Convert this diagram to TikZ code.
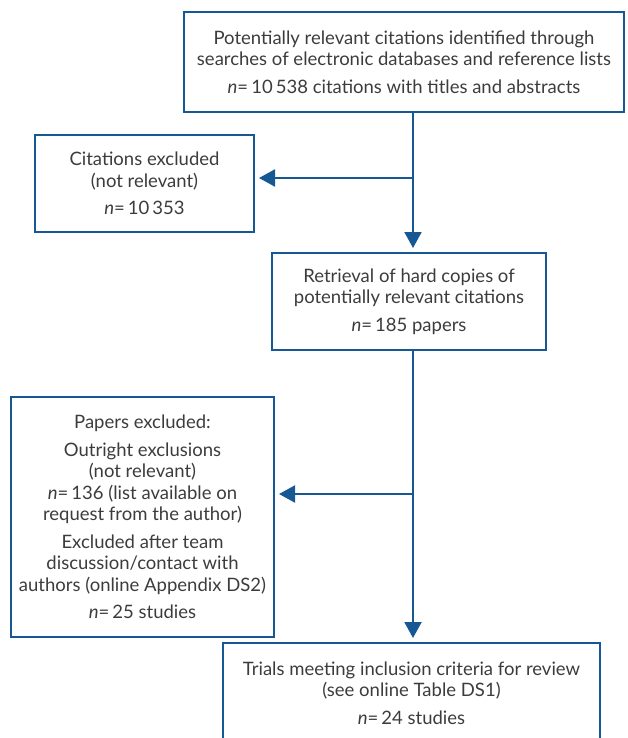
\documentclass[tikz,border=0pt]{standalone}
\usepackage{fontspec}
\setmainfont{Lato}
\usetikzlibrary{arrows.meta}
\definecolor{frameblue}{RGB}{22,88,148}
\definecolor{textgray}{RGB}{60,60,60}
\tikzset{
  box/.style={draw=frameblue, line width=2pt, align=center, inner sep=0pt,
    text=textgray, font=\fontsize{18.5}{21.5}\selectfont},
  flow/.style={draw=frameblue, line width=2pt,
    -{Triangle[length=16pt,width=17pt]}, shorten >=4pt}
}
\begin{document}
\begin{tikzpicture}[x=1pt,y=-1pt]
\clip (0,0) rectangle (628,738);
\node[box, minimum width=440pt, minimum height=100pt] (search) at (404,62)
  {Potentially relevant citations identified through\\
   searches of electronic databases and reference lists\\[6pt]
   \textit{n}=\,10\,538 citations with titles and abstracts};
\node[box, minimum width=219pt, minimum height=97pt] (excl1) at (144.5,183.5)
  {Citations excluded\\ (not relevant)\\[6pt] \textit{n}=\,10\,353};
\node[box, minimum width=274pt, minimum height=97pt] (retrieve) at (409,301.5)
  {Retrieval of hard copies of\\ potentially relevant citations\\[6pt]
   \textit{n}=\,185 papers};
\node[box, minimum width=263pt, minimum height=240pt] (excl2) at (142.5,517)
  {Papers excluded:\\[6pt]
   Outright exclusions\\ (not relevant)\\
   \textit{n}=\,136 (list available on\\ request from the author)\\[6pt]
   Excluded after team\\ discussion/contact with\\
   authors (online Appendix DS2)\\[6pt]
   \textit{n}=\,25 studies};
\node[box, minimum width=377pt, minimum height=100pt] (trials) at (411.5,693)
  {Trials meeting inclusion criteria for review\\ (see online Table DS1)\\[6pt]
   \textit{n}=\,24 studies};
\coordinate (trunk) at (413,0);
\coordinate (cut1) at (0,178);
\coordinate (cut2) at (0,494);
\draw[flow] (search.south -| trunk) -- (retrieve.north -| trunk);
\draw[flow] (retrieve.south -| trunk) -- (trials.north -| trunk);
\draw[flow] (trunk |- cut1) -- (excl1.east |- cut1);
\draw[flow] (trunk |- cut2) -- (excl2.east |- cut2);
\end{tikzpicture}
\end{document}
